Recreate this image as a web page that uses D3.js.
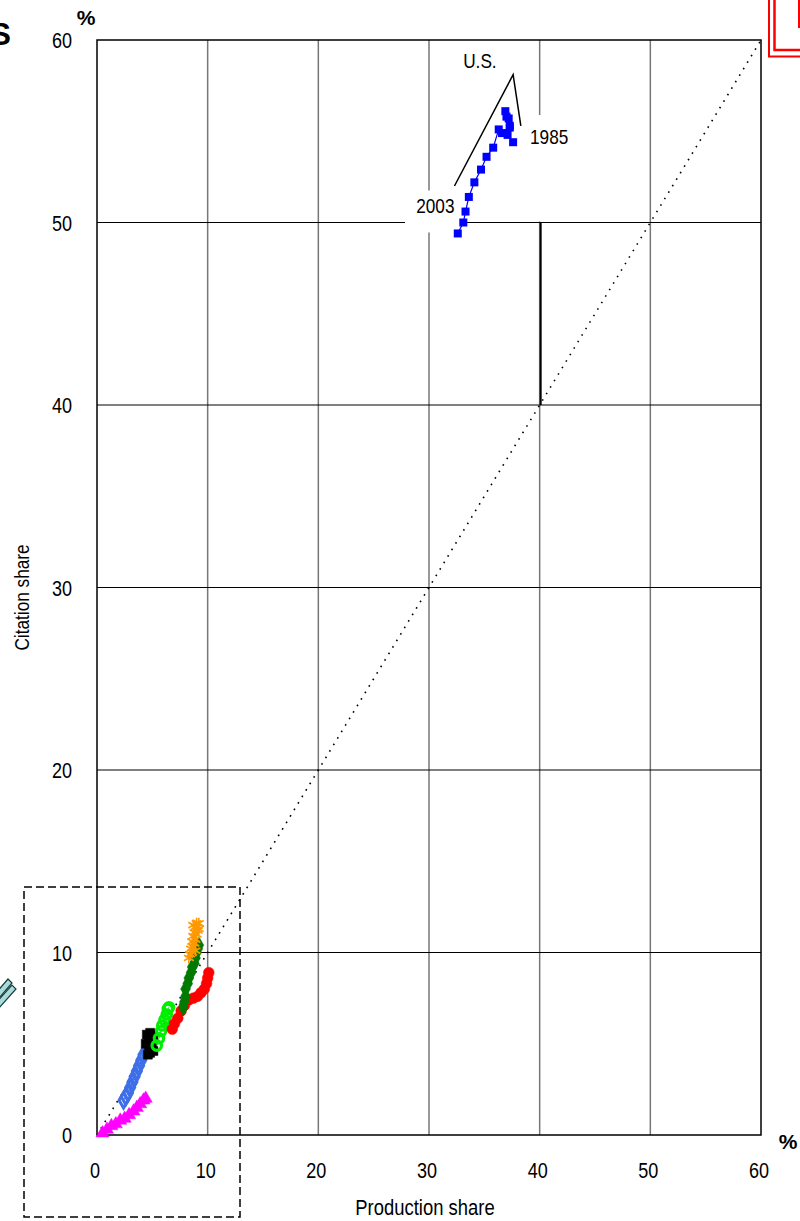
<!DOCTYPE html>
<html>
<head>
<meta charset="utf-8">
<script src="https://cdn.jsdelivr.net/npm/d3@7"></script>
<style>
  body { margin: 0; background: #fff; }
  svg text { font-family: "Liberation Sans", Arial, sans-serif; }
</style>
</head>
<body>
<svg id="chart" width="800" height="1221"></svg>
<script>
// tick values
const xTicks = [0, 10, 20, 30, 40, 50, 60];
const yTicks = [0, 10, 20, 30, 40, 50, 60];

// [production share, citation share]
const usData = [[37.6,54.4],[37.1,54.8],[37.3,55.3],[37.0,55.8],[36.9,56.1],[37.2,55.7],[37.3,55.2],
  [36.6,54.9],[36.3,55.1],[35.8,54.1],[35.2,53.6],[34.7,52.9],[34.1,52.2],[33.6,51.4],[33.3,50.6],
  [33.1,50.0],[32.6,49.4]];
const orangeData = [[8.3,9.7],[8.4,9.9],[8.6,10.0],[8.5,10.2],[8.7,10.3],[8.9,10.1],[8.8,10.5],[8.6,10.6],
  [8.9,10.7],[8.7,10.9],[9.0,11.0],[8.8,11.1],[9.1,11.2],[8.9,11.4],[9.2,11.3],[9.0,11.6],[8.7,11.5],[9.2,11.6]];
const darkGreenData = [[7.8,7.0],[7.9,7.3],[8.0,7.6],[8.0,8.0],[8.2,8.3],[8.3,8.6],[8.5,8.9],[8.6,9.2],
  [8.8,9.4],[8.9,9.7],[9.0,10.0],[9.1,10.2],[9.2,10.4]];
const redData = [[6.8,5.8],[7.0,6.1],[7.3,6.4],[7.6,6.8],[7.9,7.1],[8.3,7.4],[8.7,7.5],[9.1,7.6],
  [9.4,7.8],[9.7,8.0],[9.9,8.3],[10.0,8.6],[10.1,8.9]];
const limeData = [[5.4,4.9],[5.6,5.3],[5.8,5.7],[5.9,6.0],[6.1,6.3],[6.3,6.6],[6.4,6.9],[6.5,7.0]];
const blackData = [[4.5,5.5],[4.8,5.6],[5.0,5.5],[5.1,5.3],[4.7,5.2],[4.4,5.0],[4.7,4.9],[5.0,4.8],
  [5.1,4.6],[4.8,4.5],[4.6,4.4]];
const blueLightData = [[2.4,1.9],[2.6,2.1],[2.8,2.3],[3.0,2.6],[3.2,2.9],[3.4,3.2],[3.6,3.5],[3.8,3.8],
  [4.0,4.1],[4.2,4.4],[4.5,4.7],[4.8,5.0]];
const magentaData = [[0.5,0.1],[0.9,0.3],[1.3,0.5],[1.7,0.6],[2.1,0.8],[2.5,0.9],[2.9,1.1],[3.3,1.3],
  [3.6,1.5],[3.9,1.7],[4.2,1.9],[4.4,2.0]];

const svg = d3.select("#chart");
const margin = { top: 40, right: 39, bottom: 86, left: 97 };
const width = 800, height = 1221;

const x = d3.scaleLinear().domain([0, 60]).range([margin.left, width - margin.right]);
const y = d3.scaleLinear().domain([0, 60]).range([height - margin.bottom, margin.top]);

// narrow text (Arial Narrow look-alike)
function narrow(px, py, str, anchor, size, rot) {
  return svg.append("text")
    .attr("transform", `translate(${px},${py})${rot ? " rotate(" + rot + ")" : ""} scale(0.82,1)`)
    .attr("text-anchor", anchor).attr("font-size", size)
    .text(str);
}

// vertical grid
svg.append("g").selectAll("line")
  .data(xTicks.slice(1, -1))
  .join("line")
  .attr("x1", d => x(d)).attr("x2", d => x(d))
  .attr("y1", y(60)).attr("y2", y(0))
  .attr("stroke", "#777").attr("stroke-width", 1.5);

// horizontal grid
svg.append("g").selectAll("line")
  .data(yTicks.slice(1, -1))
  .join("line")
  .attr("x1", x(0)).attr("x2", x(60))
  .attr("y1", d => y(d)).attr("y2", d => y(d))
  .attr("stroke", "#000").attr("stroke-width", 1);

// diagonal
svg.append("line")
  .attr("x1", x(0)).attr("y1", y(0)).attr("x2", x(60)).attr("y2", y(60))
  .attr("stroke", "#000").attr("stroke-width", 1.6).attr("stroke-dasharray", "1.6,6");

// frame
svg.append("rect")
  .attr("x", x(0)).attr("y", y(60))
  .attr("width", x(60) - x(0)).attr("height", y(0) - y(60))
  .attr("fill", "none").attr("stroke", "#000").attr("stroke-width", 1.5);

// tick labels
yTicks.forEach(d => narrow(x(0) - 25, y(d) + 8, d, "end", 22));
xTicks.forEach(d => narrow(x(d) - 2, y(0) + 43, d, "middle", 22));

narrow(29, (y(0) + y(60)) / 2 + 10, "Citation share", "middle", 21, -90);
narrow((x(0) + x(60)) / 2 - 4, y(0) + 80, "Production share", "middle", 22.5);

svg.append("text")
  .attr("x", x(0) - 11).attr("y", 25)
  .attr("text-anchor", "middle").attr("font-size", 21).attr("font-weight", "bold")
  .text("%");
svg.append("text")
  .attr("x", x(60) + 27).attr("y", y(0) + 14)
  .attr("text-anchor", "middle").attr("font-size", 21).attr("font-weight", "bold")
  .text("%");

// gap marker (U.S.)
svg.append("line")
  .attr("x1", x(40) + 1).attr("x2", x(40) + 1)
  .attr("y1", y(50)).attr("y2", y(40))
  .attr("stroke", "#000").attr("stroke-width", 2);

// label boxes
svg.append("rect").attr("x", 405).attr("y", y(50) - 32).attr("width", 55).attr("height", 42).attr("fill", "#fff");
svg.append("rect").attr("x", 525).attr("y", 115).attr("width", 55).attr("height", y(50) - 116).attr("fill", "#fff");

// U.S. series
const line = d3.line().x(d => x(d[0])).y(d => y(d[1]));
svg.append("path")
  .datum(usData)
  .attr("fill", "none").attr("stroke", "#0000ff").attr("stroke-width", 1.2)
  .attr("d", line);
svg.append("g").selectAll("rect")
  .data(usData)
  .join("rect")
  .attr("x", d => x(d[0]) - 4).attr("y", d => y(d[1]) - 4)
  .attr("width", 8).attr("height", 8)
  .attr("fill", "#0000ff");

// callout
svg.append("path")
  .attr("d", `M${x(32.3)},${y(52.0)} L${x(37.6)},${y(58.1)} L${x(38.3)},${y(55.3)}`)
  .attr("fill", "none").attr("stroke", "#000").attr("stroke-width", 1.5);
narrow(x(34.6), 68, "U.S.", "middle", 21);
narrow(530, 144, "1985", "start", 21);
narrow(x(32.3), 213, "2003", "end", 21);

// small series
function drawSeries(data, color, shape, size, strokeW, filled) {
  const g = svg.append("g");
  g.append("path").datum(data)
    .attr("fill", "none").attr("stroke", color).attr("stroke-width", 1)
    .attr("d", line);
  g.selectAll("path.m")
    .data(data)
    .join("path")
    .attr("class", "m")
    .attr("transform", d => `translate(${x(d[0])},${y(d[1])})`)
    .attr("d", d3.symbol().type(shape).size(size))
    .attr("fill", filled ? color : "none")
    .attr("stroke", color)
    .attr("stroke-width", strokeW);
}
drawSeries(magentaData, "#ff00ff", d3.symbolTriangle, 75, 0.5, true);
drawSeries(blueLightData, "#3f6fe6", d3.symbolDiamond, 70, 3, false);
drawSeries(blackData, "#000000", d3.symbolSquare, 80, 0.5, true);
drawSeries(limeData, "#00ee00", d3.symbolCircle, 70, 3.2, false);
drawSeries(redData, "#ff0000", d3.symbolCircle, 90, 0.5, true);
drawSeries(darkGreenData, "#007a00", d3.symbolDiamond, 85, 0.5, true);
drawSeries(orangeData, "#ff9900", d3.symbolAsterisk, 90, 1.6, false);

// zoom-region box
svg.append("rect")
  .attr("x", 24).attr("y", 887).attr("width", 216).attr("height", 330)
  .attr("fill", "none").attr("stroke", "#000").attr("stroke-width", 1.5)
  .attr("stroke-dasharray", "8,4");

// cut-off slide decorations
svg.append("text")
  .attr("x", 11).attr("y", 45).attr("text-anchor", "end")
  .attr("font-size", 31).attr("font-weight", "bold")
  .text("S");
svg.append("path").attr("d", "M769,0 V56.5 H800").attr("fill", "none").attr("stroke", "#ff0000").attr("stroke-width", 2);
svg.append("path").attr("d", "M774.5,0 V50 H800").attr("fill", "none").attr("stroke", "#ff0000").attr("stroke-width", 2.5);
svg.append("rect").attr("x", 798).attr("y", 0).attr("width", 2).attr("height", 28).attr("fill", "#ff0000");

const arrow = svg.append("g").attr("fill", "#a8dcdc").attr("stroke", "#1a3a3a").attr("stroke-width", 1.2);
arrow.append("path").attr("d", "M-5,994 L8,979 L12,983 L-1,998 Z");
arrow.append("path").attr("d", "M-5,1004 L12,985 L16,989 L-1,1008 Z");
</script>
</body>
</html>
